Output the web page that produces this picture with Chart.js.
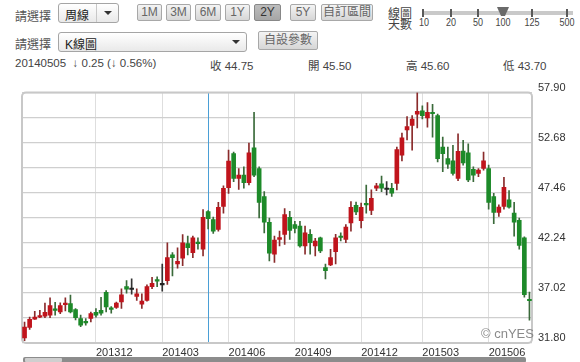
<!DOCTYPE html>
<html><head><meta charset="utf-8">
<script src="https://cdn.jsdelivr.net/npm/chart.js@4/dist/chart.umd.min.js"></script>
<style>
html,body{margin:0;padding:0;background:#fff;width:580px;height:362px;overflow:hidden;font-family:"Liberation Sans","Noto Sans CJK TC",Arial,sans-serif;color:#333;}
.a{position:absolute;white-space:nowrap;}
.lbl{font-size:12px;color:#555;}
.sel{position:absolute;border:1px solid #a5a5a5;border-radius:3px;background:linear-gradient(#ffffff,#e9e9e9);box-sizing:border-box;font-size:12px;color:#222;}
.sel .t{position:absolute;left:6px;top:2px;}
.sel .arr{position:absolute;top:0;bottom:0;right:0;width:21px;}
.sel .arr.sep{border-left:1px solid #c8c8c8;}
.sel .arr:after{content:'';position:absolute;left:50%;top:50%;margin-left:-4px;margin-top:-2px;border-left:4px solid transparent;border-right:4px solid transparent;border-top:4px solid #333;}
.btn{position:absolute;height:17px;border:1px solid #a8a8a8;box-sizing:border-box;background:linear-gradient(#f4f4f4,#d6d6d6);font-size:12px;color:#666;text-align:center;line-height:15px;border-radius:2px;}
.btn.on{background:linear-gradient(#bdbdbd,#a6a6a6);color:#333;border-color:#888;}
.info{font-size:11.5px;color:#444;top:57px;}
.tk{position:absolute;top:9px;width:2px;height:8px;background:#5a5a5a;}
.tl{position:absolute;top:17px;font-size:10px;color:#444;width:30px;text-align:center;transform:scaleX(0.9);}
</style></head>
<body>
<div class="a lbl" style="left:15px;top:7px;">請選擇</div>
<div class="sel" style="left:58px;top:3px;width:61px;height:20px;"><span class="t">周線</span><span class="arr sep"></span></div>
<div class="btn" style="left:137px;top:4px;width:25px;">1M</div>
<div class="btn" style="left:166px;top:4px;width:25px;">3M</div>
<div class="btn" style="left:195px;top:4px;width:26px;">6M</div>
<div class="btn" style="left:225px;top:4px;width:25px;">1Y</div>
<div class="btn on" style="left:254px;top:4px;width:27px;">2Y</div>
<div class="btn" style="left:290px;top:4px;width:26px;">5Y</div>
<div class="btn" style="left:321px;top:4px;width:52px;">自訂區間</div>
<div class="a" style="left:388px;top:9px;font-size:12px;line-height:11px;color:#444;">線圖<br>天數</div>
<div class="a" style="left:423px;top:11px;width:150px;height:4px;background:#c9c9c9;"></div>
<div class="tk" style="left:422px;"></div>
<div class="tk" style="left:450px;"></div>
<div class="tk" style="left:477px;"></div>
<div class="tk" style="left:531px;"></div>
<div class="tk" style="left:566px;"></div>
<div class="a" style="left:497px;top:7px;width:4px;height:0;border-top:9px solid #6a6a6a;border-left:4px solid transparent;border-right:4px solid transparent;"></div>
<div class="tl" style="left:409px;">10</div>
<div class="tl" style="left:436px;">20</div>
<div class="tl" style="left:463px;">50</div>
<div class="tl" style="left:488px;">100</div>
<div class="tl" style="left:517px;">125</div>
<div class="tl" style="left:552px;">500</div>

<div class="a lbl" style="left:15px;top:35px;">請選擇</div>
<div class="sel" style="left:58px;top:32px;width:189px;height:20px;"><span class="t">K線圖</span><span class="arr"></span></div>
<div class="btn" style="left:258px;top:31px;width:60px;height:19px;line-height:17px;">自設參數</div>

<div class="a info" style="left:15px;">20140505 &nbsp;↓ 0.25 (↓ 0.56%)</div>
<div class="a info" style="left:210px;">收 44.75</div>
<div class="a info" style="left:308px;">開 45.50</div>
<div class="a info" style="left:406px;">高 45.60</div>
<div class="a info" style="left:503px;">低 43.70</div>

<canvas id="c" width="580" height="282" style="position:absolute;left:0;top:80px;"></canvas>
<div class="a" style="left:481px;top:326px;font-size:13px;color:#8a8a8a;">© cnYES</div>
<div class="a" style="left:23px;top:357px;width:503px;height:6px;background:#8c8c8c;border-radius:2px;"></div>
<div class="a" style="left:25px;top:358px;width:37px;height:4px;background:#cfcfcf;border-radius:1px;"></div>

<script>
const weeks = [
 '20130826','20130902','20130909','20130916','20130923','20130930','20131007','20131014','20131021','20131028',
 '20131104','20131111','20131118','20131125','20131202','20131209','20131216','20131223','20131230','20140106',
 '20140113','20140120','20140127','20140203','20140210','20140217','20140224','20140303','20140310','20140317',
 '20140324','20140331','20140407','20140414','20140421','20140428','20140505','20140512','20140519','20140526',
 '20140602','20140609','20140616','20140623','20140630','20140707','20140714','20140721','20140728','20140804',
 '20140811','20140818','20140825','20140901','20140908','20140915','20140922','20140929','20141006','20141013',
 '20141020','20141027','20141103','20141110','20141117','20141124','20141201','20141208','20141215','20141222',
 '20141229','20150105','20150112','20150119','20150126','20150202','20150209','20150223','20150302','20150309',
 '20150316','20150323','20150330','20150406','20150413','20150420','20150427','20150504','20150511','20150518',
 '20150525','20150601','20150608','20150615','20150622','20150629','20150706','20150713','20150720','20150727'
];
const openP = [
 32.32,33.42,34.28,34.50,34.60,34.70,35.35,35.03,35.80,35.90,
 35.28,34.35,34.05,34.35,35.00,35.20,37.09,35.40,35.50,36.07,
 37.68,37.38,36.65,35.85,36.24,37.68,38.40,37.86,38.30,40.98,
 40.03,40.64,42.15,41.22,42.30,41.57,45.50,44.66,43.63,46.04,
 48.00,51.54,48.96,49.30,48.51,52.15,49.99,47.07,44.39,41.06,
 42.60,43.12,44.90,44.15,43.98,41.91,43.12,41.91,42.77,39.67,
 39.95,41.32,42.90,42.60,44.32,46.14,44.56,46.30,45.62,47.93,
 48.38,47.80,47.93,48.44,51.37,54.00,54.47,55.66,56.00,55.25,
 55.84,55.50,52.23,51.02,50.78,48.96,51.81,51.61,49.89,49.47,
 50.00,49.99,47.07,45.42,46.04,46.72,45.35,44.59,42.77,36.30
];
const highP = [
 33.97,34.51,35.10,35.20,35.96,36.50,36.05,36.00,36.50,36.80,
 35.38,34.70,34.35,35.03,35.38,36.57,37.27,35.60,36.07,37.45,
 38.30,38.50,37.45,36.93,37.86,38.64,38.71,40.03,42.25,41.22,
 41.73,43.10,42.94,42.94,42.77,45.70,45.60,44.93,46.45,48.17,
 51.90,51.71,49.99,50.16,52.64,55.84,50.16,47.58,44.83,42.94,
 43.46,45.80,45.52,44.49,44.49,43.98,43.63,42.70,42.84,40.02,
 41.57,43.12,43.28,44.15,46.55,46.48,46.38,48.27,47.76,48.44,
 49.20,48.62,48.44,52.23,53.67,55.39,55.50,57.90,56.53,56.87,
 56.69,55.66,53.26,52.23,52.40,53.60,52.92,52.57,50.16,49.99,
 51.71,50.34,47.41,46.21,49.06,47.69,46.45,44.83,42.87,37.10
];
const lowP = [
 32.05,33.21,34.25,34.45,34.45,34.45,34.70,34.85,35.15,34.93,
 34.20,33.50,33.66,34.00,34.50,34.70,35.03,34.90,35.40,35.40,
 37.00,36.90,36.24,35.40,36.17,37.45,37.68,37.20,37.90,38.80,
 39.60,39.85,40.98,40.70,41.57,40.88,43.70,43.22,43.46,45.34,
 47.40,48.62,47.82,47.93,48.28,49.13,44.83,43.28,40.36,40.19,
 41.91,42.08,42.60,43.28,41.80,41.06,41.06,40.88,41.22,38.47,
 39.85,40.03,42.43,42.25,43.46,45.18,43.80,45.34,45.18,47.69,
 47.58,47.24,47.07,47.76,50.78,52.98,51.89,54.22,55.15,54.29,
 53.26,50.68,49.65,49.99,49.30,48.72,50.34,48.62,48.62,49.13,
 49.82,45.76,44.25,45.00,45.76,45.86,42.94,41.57,36.57,34.17
];
const closeP = [
 33.45,34.28,34.50,34.55,35.00,35.70,35.20,35.70,35.95,35.03,
 34.45,33.66,33.90,34.86,34.70,34.90,35.55,35.30,35.95,36.83,
 37.40,37.38,36.93,36.17,37.68,38.02,38.24,37.86,40.70,40.70,
 40.30,42.25,41.73,42.77,42.15,44.90,44.75,43.46,45.93,47.92,
 50.75,48.96,49.30,48.50,51.61,49.30,46.45,44.39,41.16,42.53,
 42.80,45.18,43.53,43.74,41.91,43.28,42.25,42.43,41.39,39.33,
 40.70,42.77,42.80,43.87,45.93,45.45,45.93,46.20,46.89,48.17,
 47.93,47.80,47.41,51.95,53.19,54.36,55.15,55.94,55.50,55.84,
 55.70,51.02,51.54,50.44,49.47,51.78,50.58,48.79,49.30,49.82,
 50.78,46.45,45.42,45.97,48.03,45.97,44.39,41.97,36.83,36.20
];
const xTickLabels = ['201312','201403','201406','201409','201412','201503','201506'];
const yTicks = [31.80,34.41,37.02,39.63,42.24,44.85,47.46,50.07,52.68,55.29,57.90];
const yTickLabels = ['31.80','','37.02','','42.24','','47.46','','52.68','','57.90'];
const selectedWeek = '20140505';

const UP='#c0141c', DOWN='#1d8a29', FLAT='#222222';
const WUP='#8a2b2b', WDOWN='#3a6a3a', WFLAT='#333333';
const dir = i => closeP[i] > openP[i] ? 1 : (closeP[i] < openP[i] ? -1 : 0);
const tickIdx = {};
xTickLabels.forEach(l => { tickIdx[weeks.findIndex(d => d.startsWith(l))] = l; });
const FONT = {family:'"Liberation Sans", Arial, sans-serif', size:11};

const frame = {
  id:'frame',
  beforeDatasetsDraw(chart){
    const {ctx, chartArea:a, scales:{x}} = chart;
    ctx.save();
    const px = Math.round(x.getPixelForValue(weeks.indexOf(selectedWeek))) + 0.5;
    ctx.strokeStyle = '#4a9fd6'; ctx.lineWidth = 1;
    ctx.beginPath(); ctx.moveTo(px, a.top); ctx.lineTo(px, a.bottom); ctx.stroke();
    ctx.strokeStyle = '#c8c8c8'; ctx.lineWidth = 2;
    ctx.beginPath();
    if (ctx.roundRect) ctx.roundRect(a.left, a.top, a.width, a.height, 4); else ctx.rect(a.left, a.top, a.width, a.height);
    ctx.stroke();
    ctx.restore();
  }
};

new Chart(document.getElementById('c'), {
  type:'bar',
  data:{
    labels: weeks,
    datasets:[
      {label:'body', data: weeks.map((_, i) => [openP[i], closeP[i]]),
       backgroundColor: weeks.map((_, i) => dir(i) === 1 ? UP : dir(i) === -1 ? DOWN : FLAT),
       barThickness:4, minBarLength:1.5, grouped:false, borderWidth:0},
      {label:'wick', data: weeks.map((_, i) => [lowP[i], highP[i]]),
       backgroundColor: weeks.map((_, i) => dir(i) === 1 ? WUP : dir(i) === -1 ? WDOWN : WFLAT),
       barThickness:1, grouped:false, borderWidth:0}
    ]
  },
  options:{
    responsive:false, animation:false, devicePixelRatio:1,
    layout:{padding:{left:22, top:10, right:0, bottom:0}},
    plugins:{legend:{display:false}, tooltip:{enabled:false}},
    scales:{
      x:{
        type:'category', offset:true,
        grid:{offset:false, color:'#dedede', drawTicks:false},
        border:{display:false},
        ticks:{autoSkip:false, maxRotation:0, minRotation:0, align:'start', padding:3, color:'#333', font:FONT,
               callback:(v) => tickIdx[v] || ''},
        afterBuildTicks: s => { s.ticks = s.ticks.filter(t => tickIdx[t.value] !== undefined); },
        afterFit: s => { s.height = 19; }
      },
      y:{
        position:'right', min: yTicks[0], max: yTicks[yTicks.length - 1],
        grid:{color:'#cfcfcf', lineWidth:1.3, drawTicks:false},
        border:{display:false},
        ticks:{padding:6, labelOffset:-5, color:'#333', font:FONT, callback:(v, i) => yTickLabels[i]},
        afterBuildTicks: s => { s.ticks = yTicks.map(v => ({value:v})); },
        afterFit: s => { s.width = 48; }
      }
    }
  },
  plugins:[frame]
});
</script>
</body></html>
